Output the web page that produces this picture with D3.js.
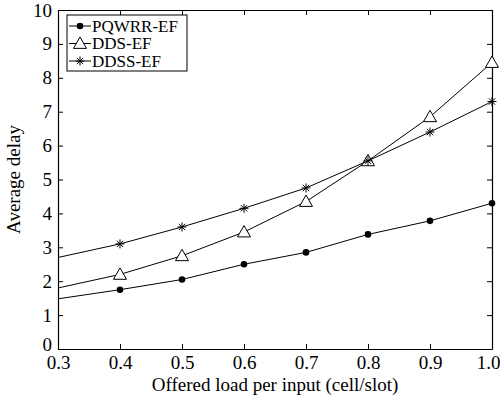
<!DOCTYPE html>
<html>
<head>
<meta charset="utf-8">
<script src="https://cdn.jsdelivr.net/npm/d3@7"></script>
<style>
  body { margin: 0; background: #fff; }
  text { font-family: "Liberation Serif", "Times New Roman", serif; fill: #000; }
</style>
</head>
<body>
<div id="chart"></div>
<script>
const loads = [0.3, 0.4, 0.5, 0.6, 0.7, 0.8, 0.9, 1.0];
const pqwrr = [1.48, 1.75, 2.05, 2.5, 2.85, 3.38, 3.78, 4.3];
const dds = [1.8, 2.2, 2.75, 3.45, 4.35, 5.55, 6.85, 8.45];
const ddss = [2.7, 3.1, 3.6, 4.15, 4.75, 5.55, 6.4, 7.3];
const seriesNames = ["PQWRR-EF", "DDS-EF", "DDSS-EF"];
const seriesMarkers = ["dot", "triangle", "star"];
const xTicks = [0.3, 0.4, 0.5, 0.6, 0.7, 0.8, 0.9, 1.0];
const yTicks = [0, 1, 2, 3, 4, 5, 6, 7, 8, 9, 10];

const width = 500, height = 400;
const margin = {top: 10, right: 8, bottom: 51, left: 58};

const svg = d3.select("#chart").append("svg")
  .attr("width", width)
  .attr("height", height);

const x = d3.scaleLinear().domain([0.3, 1.0]).range([margin.left, width - margin.right]);
const y = d3.scaleLinear().domain([0, 10]).range([height - margin.bottom, margin.top]);

const tickLen = 5;

// axes, MATLAB style with inward ticks on all four sides
svg.append("g")
  .attr("transform", `translate(0,${y(0)})`)
  .call(d3.axisBottom(x).tickValues(xTicks).tickFormat(d3.format(".1f")).tickSizeInner(-tickLen).tickSizeOuter(0).tickPadding(7))
  .call(g => g.selectAll("text").style("font-size", "19px"))
  // last label sits at the right edge, pull it in a bit
  .call(g => g.selectAll("text").filter(d => d == 1.0).attr("dx", -4));
svg.append("g")
  .attr("transform", `translate(0,${y(10)})`)
  .call(d3.axisTop(x).tickValues(xTicks).tickFormat("").tickSizeInner(-tickLen).tickSizeOuter(0));
svg.append("g")
  .attr("transform", `translate(${x(0.3)},0)`)
  .call(d3.axisLeft(y).tickValues(yTicks).tickFormat(d3.format("d")).tickSizeInner(-tickLen).tickSizeOuter(0).tickPadding(6))
  .call(g => g.selectAll("text").style("font-size", "19px"))
  .call(g => g.selectAll("text").filter(d => d == 0).attr("dy", "0.1em"));
svg.append("g")
  .attr("transform", `translate(${x(1.0)},0)`)
  .call(d3.axisRight(y).tickValues(yTicks).tickFormat("").tickSizeInner(-tickLen).tickSizeOuter(0));

svg.selectAll(".domain").attr("stroke", "#000").attr("stroke-width", 1.2);
svg.selectAll(".tick line").attr("stroke", "#000");

// axis labels
svg.append("text")
  .attr("x", (x(0.3) + x(1.0)) / 2)
  .attr("y", height - 9)
  .attr("text-anchor", "middle")
  .style("font-size", "19px")
  .text("Offered load per input (cell/slot)");
svg.append("text")
  .attr("transform", `translate(20,${(y(0) + y(10)) / 2}) rotate(-90)`)
  .attr("text-anchor", "middle")
  .style("font-size", "19px")
  .text("Average delay");

const line = d3.line().x(d => x(d[0])).y(d => y(d[1]));

function drawMarker(g, type, cx, cy) {
  if (type == "dot") {
    g.append("circle").attr("cx", cx).attr("cy", cy).attr("r", 3.3).attr("fill", "#000");
  }
  if (type == "triangle") {
    const s = 6.5;
    g.append("path")
      .attr("d", `M${cx},${cy - s} L${cx + s},${cy + s * 0.75} L${cx - s},${cy + s * 0.75} Z`)
      .attr("fill", "#fff").attr("stroke", "#000").attr("stroke-width", 1);
  }
  if (type == "star") {
    const s = 4.5;
    g.append("path")
      .attr("d", `M${cx - s},${cy} L${cx + s},${cy} M${cx},${cy - s} L${cx},${cy + s} M${cx - s * 0.7},${cy - s * 0.7} L${cx + s * 0.7},${cy + s * 0.7} M${cx - s * 0.7},${cy + s * 0.7} L${cx + s * 0.7},${cy - s * 0.7}`)
      .attr("stroke", "#000").attr("stroke-width", 1);
  }
}

const allSeries = [pqwrr, dds, ddss];
allSeries.forEach((vals, i) => {
  const pts = loads.map((l, j) => [l, vals[j]]);
  const g = svg.append("g");
  g.append("path").attr("d", line(pts)).attr("fill", "none").attr("stroke", "#000").attr("stroke-width", 1);
  // markers only from 0.4 on
  pts.slice(1).forEach(p => drawMarker(g, seriesMarkers[i], x(p[0]), y(p[1])));
});

// legend
const lg = svg.append("g").attr("transform", "translate(67,15)");
lg.append("rect").attr("width", 120).attr("height", 56).attr("fill", "#fff").attr("stroke", "#000").attr("stroke-width", 1);
seriesNames.forEach((name, i) => {
  const ly = 11 + i * 17.5;
  lg.append("line").attr("x1", 2).attr("x2", 24).attr("y1", ly).attr("y2", ly).attr("stroke", "#000");
  drawMarker(lg, seriesMarkers[i], 13, ly);
  lg.append("text").attr("x", 25).attr("y", ly + 5.5).style("font-size", "17px").text(name);
});
</script>
</body>
</html>
